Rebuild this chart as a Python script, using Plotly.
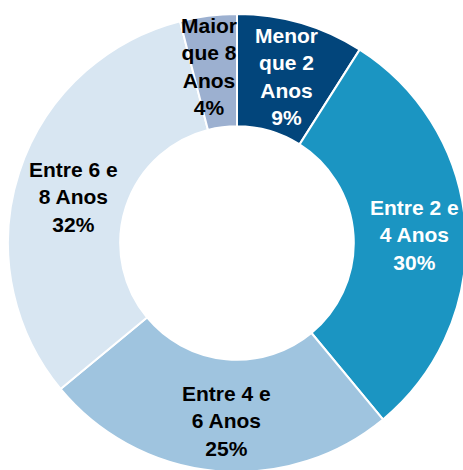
import math
import plotly.graph_objects as go

# ---- data ----
labels = ["Menor que 2 Anos", "Entre 2 e 4 Anos", "Entre 4 e 6 Anos",
          "Entre 6 e 8 Anos", "Maior que 8 Anos"]
label_lines = ["Menor<br>que 2<br>Anos", "Entre 2 e<br>4 Anos", "Entre 4 e<br>6 Anos",
               "Entre 6 e<br>8 Anos", "Maior<br>que 8<br>Anos"]
values = [9, 30, 25, 32, 4]

# ---- style ----
colors = ["#02457B", "#1B95C2", "#9FC4DF", "#D8E6F2", "#9CB0D0"]
text_colors = ["white", "white", "black", "black", "black"]
label_nudge = [(1, 0), (5, 3), (6, 6), (1, 7), (-6, -5)]   # px (right, down)

W, H = 466, 473
CX, CY, R = 237, 243, 229            # pie centre / radius (px)
HOLE = 0.51

fig = go.Figure(go.Pie(
    labels=labels, values=values, sort=False, direction="clockwise", rotation=0,
    hole=HOLE, textinfo="none", hoverinfo="none",
    marker=dict(colors=colors, line=dict(color="white", width=2)),
    domain=dict(x=[(CX - R) / W, (CX + R) / W], y=[1 - (CY + R) / H, 1 - (CY - R) / H]),
    showlegend=False,
))

total = sum(values)
cum = 0
r_lab = R * (1 + HOLE) / 2
for lab, v, tc, (nx, ny) in zip(label_lines, values, text_colors, label_nudge):
    mid = (cum + v / 2) / total * 2 * math.pi
    cum += v
    px = CX + r_lab * math.sin(mid)
    py = CY - r_lab * math.cos(mid)
    pct = round(v / total * 100)
    fig.add_annotation(
        x=px / W, y=1 - py / H, xref="paper", yref="paper",
        xanchor="center", yanchor="middle", xshift=nx, yshift=-ny,
        text=f"{lab}<br>{pct}%", showarrow=False, align="center",
        font=dict(family="Liberation Sans, Arial, sans-serif", size=21, color=tc, weight="bold"),
    )

fig.update_layout(width=W, height=H, margin=dict(l=0, r=0, t=0, b=0),
                  paper_bgcolor="white", plot_bgcolor="white", hovermode=False)
fig.write_html("out.html", config={"displayModeBar": False},
               post_script="document.body.style.margin='0';document.body.style.overflow='hidden';")
